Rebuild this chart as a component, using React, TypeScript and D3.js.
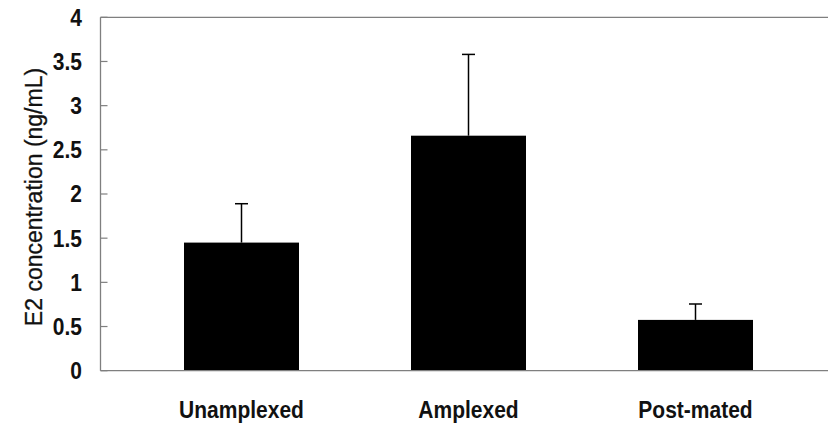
import React from "react";
import * as d3 from "d3";

const categories = ["Unamplexed", "Amplexed", "Post-mated"];
const means = [1.45, 2.66, 0.575];
const errors = [0.44, 0.92, 0.18];
const yTicks = [0, 0.5, 1, 1.5, 2, 2.5, 3, 3.5, 4];
const yTickLabels = ["0", "0.5", "1", "1.5", "2", "2.5", "3", "3.5", "4"];
const yTitle = "E2 concentration (ng/mL)";

const W = 828;
const H = 429;
const axisX = 100.5;
const yTop = 17.3;
const yBottom = 370.7;

export default function App() {
  const y = d3.scaleLinear().domain([0, 4]).range([yBottom, yTop]);
  const x = d3.scalePoint<string>().domain(categories).range([128, 809]).padding(0.5);
  const barW = 115;
  const capW = 13;
  const axisColor = "#7f7f7f";
  const font = "Arial, 'Liberation Sans', sans-serif";
  const stretch = 1.12;

  return (
    <svg width={W} height={H} style={{ position: "absolute", left: 0, top: 0, background: "#fff" }}>
      <rect x={0} y={0} width={W} height={H} fill="#fff" />
      {categories.map((c, i) => {
        const cx = x(c) as number;
        return (
          <g key={c}>
            <line x1={cx} x2={cx} y1={y(means[i])} y2={y(means[i] + errors[i])} stroke="#000" strokeWidth={1.5} />
            <line x1={cx - capW / 2} x2={cx + capW / 2} y1={y(means[i] + errors[i])} y2={y(means[i] + errors[i])} stroke="#000" strokeWidth={1.5} />
            <rect x={cx - barW / 2} y={y(means[i])} width={barW} height={y(0) - y(means[i])} fill="#000" />
          </g>
        );
      })}
      <line x1={axisX} x2={W} y1={yTop} y2={yTop} stroke={axisColor} strokeWidth={1.3} />
      <line x1={axisX} x2={W} y1={yBottom} y2={yBottom} stroke={axisColor} strokeWidth={1.3} />
      <line x1={axisX} x2={axisX} y1={yTop} y2={yBottom} stroke={axisColor} strokeWidth={1.3} />
      {yTicks.map((t, i) => (
        <g key={t}>
          <line x1={axisX} x2={axisX + 7} y1={y(t)} y2={y(t)} stroke={axisColor} strokeWidth={1.2} />
          <text
            transform={`translate(82, ${y(t)}) scale(1, ${stretch})`}
            dy="0.36em"
            textAnchor="end"
            fontFamily={font}
            fontWeight="bold"
            fontSize={21}
            fill="#111"
          >
            {yTickLabels[i]}
          </text>
        </g>
      ))}
      {categories.map((c) => (
        <text
          key={c}
          transform={`translate(${x(c) as number}, 418) scale(1, ${stretch})`}
          textAnchor="middle"
          fontFamily={font}
          fontWeight="bold"
          fontSize={21}
          fill="#111"
        >
          {c}
        </text>
      ))}
      <text
        transform={`translate(42, 197) rotate(-90)`}
        textAnchor="middle"
        fontFamily={font}
        fontSize={23}
        fill="#111"
        stroke="#111"
        strokeWidth={0.3}
      >
        {yTitle}
      </text>
    </svg>
  );
}
